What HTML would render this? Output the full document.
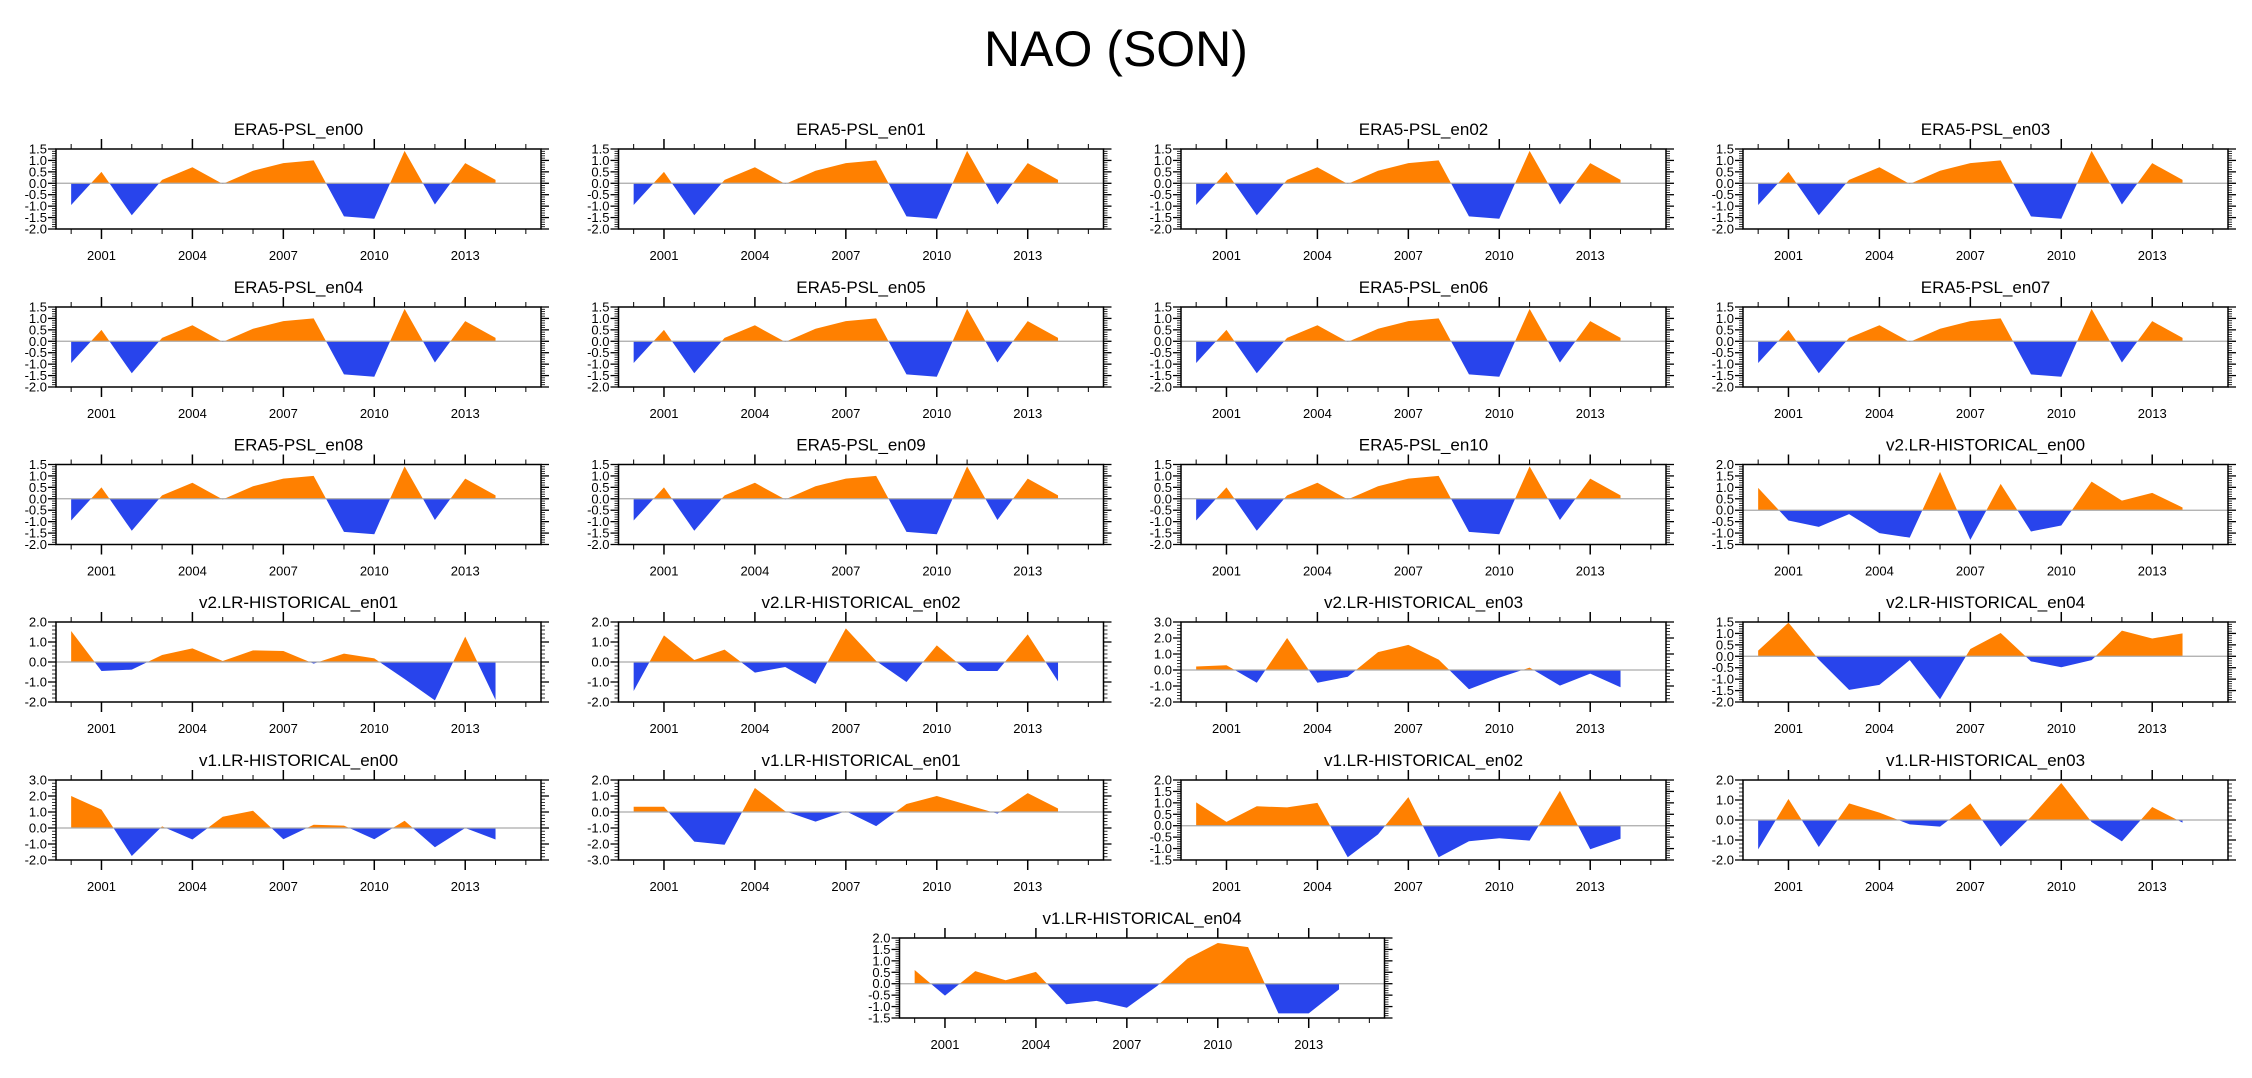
<!DOCTYPE html>
<html><head><meta charset="utf-8"><style>
html,body{margin:0;padding:0;background:#fff;}
svg{display:block;font-family:"Liberation Sans",sans-serif;}
</style></head><body>
<svg id="fig" width="2252" height="1078" viewBox="0 0 2252 1078" xmlns="http://www.w3.org/2000/svg">
<text x="1116" y="66" font-size="50" text-anchor="middle" fill="#000">NAO (SON)</text>
</svg>
<script>
const years = [2000,2001,2002,2003,2004,2005,2006,2007,2008,2009,2010,2011,2012,2013,2014];
const yearTickLabels = ["2001","2004","2007","2010","2013"];
const era5Values = [-0.95,0.5,-1.4,0.15,0.7,-0.03,0.55,0.88,1.0,-1.45,-1.55,1.42,-0.93,0.88,0.15];
const v2en00Values = [0.98,-0.45,-0.73,-0.17,-1.0,-1.2,1.68,-1.3,1.15,-0.93,-0.67,1.25,0.42,0.76,0.12];
const v2en01Values = [1.55,-0.45,-0.38,0.35,0.68,0.05,0.58,0.55,-0.08,0.42,0.18,-0.85,-1.92,1.27,-1.9];
const v2en02Values = [-1.45,1.33,0.1,0.62,-0.53,-0.25,-1.1,1.68,0.05,-1.0,0.83,-0.45,-0.45,1.38,-0.97];
const v2en03Values = [0.22,0.3,-0.8,2.0,-0.8,-0.42,1.12,1.57,0.65,-1.2,-0.48,0.15,-0.98,-0.23,-1.08];
const v2en04Values = [0.25,1.47,-0.15,-1.47,-1.25,-0.17,-1.88,0.32,1.02,-0.22,-0.48,-0.17,1.12,0.78,1.0];
const v1en00Values = [2.0,1.15,-1.75,0.1,-0.72,0.7,1.08,-0.7,0.2,0.15,-0.7,0.45,-1.2,0.0,-0.72];
const v1en01Values = [0.33,0.33,-1.85,-2.05,1.5,0.05,-0.6,0.05,-0.88,0.5,1.0,0.45,-0.1,1.18,0.22];
const v1en02Values = [1.02,0.17,0.85,0.8,1.0,-1.38,-0.38,1.25,-1.38,-0.68,-0.55,-0.65,1.53,-1.03,-0.57];
const v1en03Values = [-1.47,1.05,-1.35,0.83,0.37,-0.22,-0.33,0.83,-1.33,0.15,1.85,-0.1,-1.07,0.65,-0.13];
const v1en04Values = [0.6,-0.52,0.55,0.15,0.52,-0.9,-0.75,-1.05,-0.1,1.1,1.78,1.6,-1.3,-1.3,-0.25];

const panels = [
 ["ERA5-PSL_en00",era5Values,[-2,1.5,0.5]],["ERA5-PSL_en01",era5Values,[-2,1.5,0.5]],
 ["ERA5-PSL_en02",era5Values,[-2,1.5,0.5]],["ERA5-PSL_en03",era5Values,[-2,1.5,0.5]],
 ["ERA5-PSL_en04",era5Values,[-2,1.5,0.5]],["ERA5-PSL_en05",era5Values,[-2,1.5,0.5]],
 ["ERA5-PSL_en06",era5Values,[-2,1.5,0.5]],["ERA5-PSL_en07",era5Values,[-2,1.5,0.5]],
 ["ERA5-PSL_en08",era5Values,[-2,1.5,0.5]],["ERA5-PSL_en09",era5Values,[-2,1.5,0.5]],
 ["ERA5-PSL_en10",era5Values,[-2,1.5,0.5]],["v2.LR-HISTORICAL_en00",v2en00Values,[-1.5,2,0.5]],
 ["v2.LR-HISTORICAL_en01",v2en01Values,[-2,2,1]],["v2.LR-HISTORICAL_en02",v2en02Values,[-2,2,1]],
 ["v2.LR-HISTORICAL_en03",v2en03Values,[-2,3,1]],["v2.LR-HISTORICAL_en04",v2en04Values,[-2,1.5,0.5]],
 ["v1.LR-HISTORICAL_en00",v1en00Values,[-2,3,1]],["v1.LR-HISTORICAL_en01",v1en01Values,[-3,2,1]],
 ["v1.LR-HISTORICAL_en02",v1en02Values,[-1.5,2,0.5]],["v1.LR-HISTORICAL_en03",v1en03Values,[-2,2,1]],
 ["v1.LR-HISTORICAL_en04",v1en04Values,[-1.5,2,0.5]]
];
const NS="http://www.w3.org/2000/svg";
const svg=document.getElementById('fig');
const colX=[56,618.5,1181,1743], rowY=[149,307,464.5,622,780,938];
const W=485,H=80,X0=1999.5,X1=2015.5;
function mk(tag,attrs,parent){const e=document.createElementNS(NS,tag);for(const k in attrs)e.setAttribute(k,attrs[k]);parent.appendChild(e);return e;}
panels.forEach((p,i)=>{
  const [title,vals,[ymin,ymax,step]]=p;
  let L,T;
  if(i<20){L=colX[i%4];T=rowY[Math.floor(i/4)];}else{L=899.5;T=rowY[5];}
  const g=mk('g',{},svg);
  
  
  const xs=y=>L+(y-X0)/(X1-X0)*W;
  const ys=v=>T+(ymax-v)/(ymax-ymin)*H;
  const t=mk('text',{x:L+W/2,y:T-14,'font-size':17,'text-anchor':'middle',fill:'#000'},g);
  t.textContent=title;
  
  
  const z=ys(0);
  let pos=`M${xs(years[0])},${z}`, neg=`M${xs(years[0])},${z}`;
  for(let k=0;k<years.length;k++){
    const v=vals[k],x=xs(years[k]);
    if(k>0){const v0=vals[k-1];if((v0>0&&v<0)||(v0<0&&v>0)){const f=v0/(v0-v);const xc=xs(years[k-1]+f);pos+=`L${xc},${z}`;neg+=`L${xc},${z}`;}}
    pos+=`L${x},${ys(Math.max(v,0))}`;neg+=`L${x},${ys(Math.min(v,0))}`;
  }
  const xe=xs(years[years.length-1]);
  pos+=`L${xe},${z}Z`;neg+=`L${xe},${z}Z`;
  const pp=mk('path',{d:pos,fill:'#ff8000'},g);
  
  
  const np=mk('path',{d:neg,fill:'#2844ec'},g);
  
  
  const zl=mk('line',{x1:L,x2:L+W,y1:z,y2:z,stroke:'#aaa','stroke-width':1.2},g);
  
  
  const box=mk('rect',{x:L,y:T,width:W,height:H,fill:'none',stroke:'#000','stroke-width':1.5},g);
  
  
  for(let yr=2000;yr<=2015;yr++){
    const maj=(yr-2001)%3===0, len=maj?10:5, x=xs(yr);
    mk('line',{x1:x,x2:x,y1:T,y2:T-len,stroke:'#000','stroke-width':maj?1.5:1},g);
    mk('line',{x1:x,x2:x,y1:T+H,y2:T+H+len,stroke:'#000','stroke-width':maj?1.5:1},g);
  }
  yearTickLabels.forEach(lb=>{
    const tx=mk('text',{x:xs(+lb),y:T+H+31,'font-size':13,'text-anchor':'middle',fill:'#000'},g);
    tx.textContent=lb;
    
    
  });
  const minor=step/5;
  const n=Math.round((ymax-ymin)/minor);
  for(let k=0;k<=n;k++){
    const v=ymin+k*minor, y=ys(v), maj=k%5===0, len=maj?8:4;
    mk('line',{x1:L,x2:L-len,y1:y,y2:y,stroke:'#000','stroke-width':maj?1.3:0.8},g);
    mk('line',{x1:L+W,x2:L+W+len,y1:y,y2:y,stroke:'#000','stroke-width':maj?1.3:0.8},g);
    if(maj){
      const ty=mk('text',{x:L-9,y:y+4.5,'font-size':13,'text-anchor':'end',fill:'#000'},g);
      ty.textContent=(Math.abs(v)<1e-9?0:v).toFixed(1);
      
      
    }
  }
});
</script>
</body></html>
